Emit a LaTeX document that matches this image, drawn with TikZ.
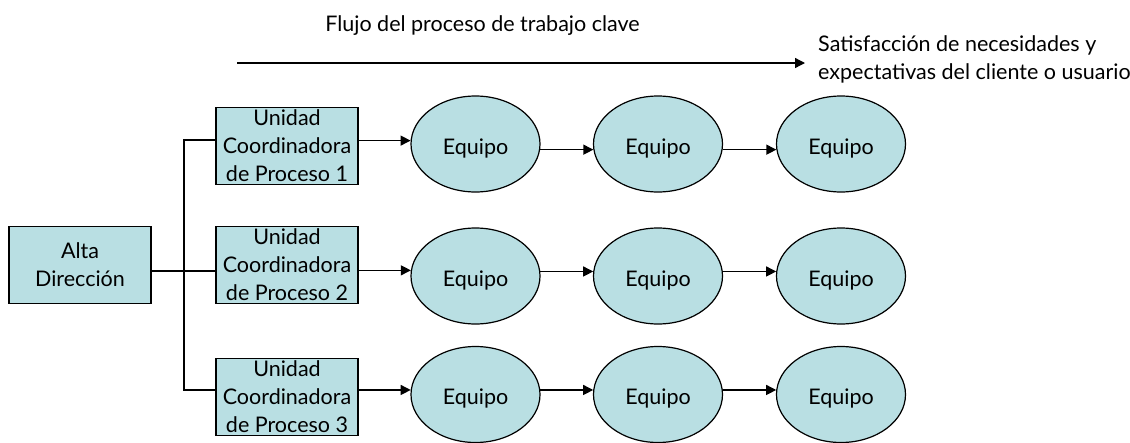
\documentclass[tikz,border=0pt]{standalone}
\usepackage{fontspec}
\setmainfont{Lato}
\usetikzlibrary{arrows.meta,shapes.geometric}
\definecolor{teal}{RGB}{185,223,227}
\tikzset{
  base/.style={font=\fontsize{21.5}{28}\selectfont, text=black},
  boxnode/.style={base, draw=black, line width=1.2pt, fill=teal, rectangle, minimum width=142pt, minimum height=77pt, inner sep=0pt, align=center},
  ellnode/.style={base, draw=black, line width=1.2pt, fill=teal, ellipse, minimum width=129pt, minimum height=96pt, inner sep=0pt},
  lin/.style={draw=black, line width=1.3pt},
  arr/.style={lin, -{Triangle[length=10pt,width=10pt]}},
  lbl/.style={base, inner sep=0pt}
}
\newcommand{\eqtxt}{\raisebox{-4pt}[\height][\depth]{Equipo}}
\begin{document}
\begin{tikzpicture}[x=1pt,y=-1pt]
\useasboundingbox (0,0) rectangle (1130,442);
% top labels and arrow
\node[lbl, anchor=base] (flujo) at (482.5,31) {Flujo del proceso de trabajo clave};
\coordinate (fs) at (237,63);
\coordinate (fe) at (805,63);
\draw[arr] (fs) -- (fe);
\node[lbl, anchor=west, align=left] (satis) at (818,59) {Satisfacción de necesidades y\\expectativas del cliente o usuario};
% boxes
\node[boxnode] (alta) at (80,265) {Alta\\Dirección};
\node[boxnode] (u1) at (287,146) {Unidad\\Coordinadora\\de Proceso 1};
\node[boxnode] (u2) at (287,265) {Unidad\\Coordinadora\\de Proceso 2};
\node[boxnode] (u3) at (287,397) {Unidad\\Coordinadora\\de Proceso 3};
% ellipses
\node[ellnode] (e11) at (475.5,144) {\eqtxt};
\node[ellnode] (e12) at (658,144) {\eqtxt};
\node[ellnode] (e13) at (841,144) {\eqtxt};
\node[ellnode] (e21) at (475.5,276) {\eqtxt};
\node[ellnode] (e22) at (658,276) {\eqtxt};
\node[ellnode] (e23) at (841,276) {\eqtxt};
\node[ellnode] (e31) at (475.5,394.5) {\eqtxt};
\node[ellnode] (e32) at (658,394.5) {\eqtxt};
\node[ellnode] (e33) at (841,394.5) {\eqtxt};
% tree
\coordinate (jt) at (184,140);
\coordinate (jm) at (184,271);
\coordinate (jb) at (184,390);
\draw[lin] (alta.east |- jm) -- (u2.west |- jm);
\draw[lin] (u1.west |- jt) -- (jt) -- (jb) -- (u3.west |- jb);
% box to ellipse
\draw[arr] (u1.east |- e11.177) -- (e11.177);
\draw[arr] (u2.east |- e21.175) -- (e21.175);
\draw[arr] (u3.east |- e31.176) -- (e31.176);
% ellipse to ellipse
\draw[arr] (e11.-5) -- (e12.185);
\draw[arr] (e12.-5) -- (e13.185);
\draw[arr] (e21.4) -- (e22.176);
\draw[arr] (e22.4) -- (e23.176);
\draw[arr] (e31.4) -- (e32.176);
\draw[arr] (e32.4) -- (e33.176);
\end{tikzpicture}
\end{document}
